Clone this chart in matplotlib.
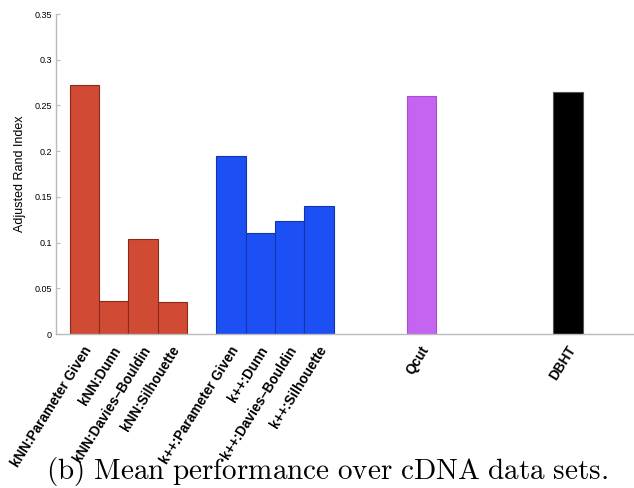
import numpy as np
import matplotlib.pyplot as plt
from matplotlib.transforms import ScaledTranslation

plt.rcParams.update({
    "font.family": ["Liberation Sans", "DejaVu Sans"],
    "mathtext.fontset": "cm",
})

# data
labels = ["kNN:Parameter Given", "kNN:Dunn", "kNN:Davies\u2013Bouldin", "kNN:Silhouette",
          "k++:Parameter Given", "k++:Dunn", "k++:Davies\u2013Bouldin", "k++:Silhouette",
          "Qcut", "DBHT"]
ari = [0.272, 0.036, 0.104, 0.035,
       0.195, 0.111, 0.124, 0.140,
       0.260, 0.265]

# bar layout (in bar widths)
positions = [0, 1, 2, 3, 5, 6, 7, 8, 11.5, 16.5]
face = ["#d14a33"] * 4 + ["#1c50f5"] * 4 + ["#c664f2", "#000000"]
edge = ["#8a2a1a"] * 4 + ["#1436a8"] * 4 + ["#a64fd0", "#555555"]

fig = plt.figure(figsize=(6.34, 4.88), dpi=100)
ax = fig.add_axes([56 / 634, 154 / 488, 578 / 634, 320 / 488])

ax.bar(positions, ari, width=1.0, color=face, edgecolor=edge, linewidth=0.8)

ax.set_xlim(-0.97, 18.75)
ax.set_ylim(0, 0.35)
ax.set_yticks(np.arange(0, 0.351, 0.05))
ax.set_yticklabels(["0", "0.05", "0.1", "0.15", "0.2", "0.25", "0.3", "0.35"], fontsize=6.5)
ax.set_ylabel("Adjusted Rand Index", fontsize=9, labelpad=6)

ax.set_xticks(positions)
ax.set_xticklabels(labels, rotation=58, ha="right", va="center_baseline",
                   rotation_mode="anchor", fontsize=9.8, fontweight="bold")
ax.tick_params(axis="x", length=0, pad=9)
ax.tick_params(axis="y", direction="in", length=3, color="#bbbbbb", pad=3)

# nudge the rotated labels a little to the right so they end under the bar centres
shift = ScaledTranslation(3 / 100, 0, fig.dpi_scale_trans)
for lab in ax.get_xticklabels():
    lab.set_transform(lab.get_transform() + shift)

for side in ["top", "right"]:
    ax.spines[side].set_visible(False)
for side in ["left", "bottom"]:
    ax.spines[side].set_color("#bbbbbb")
    ax.spines[side].set_linewidth(1.0)

fig.text(327 / 634, 1 - 479 / 488,
         r"$\mathrm{(b)\ Mean\ performance\ over\ cDNA\ data\ sets.}$",
         ha="center", va="baseline", fontsize=21)

fig.savefig("out.png", dpi=100)
